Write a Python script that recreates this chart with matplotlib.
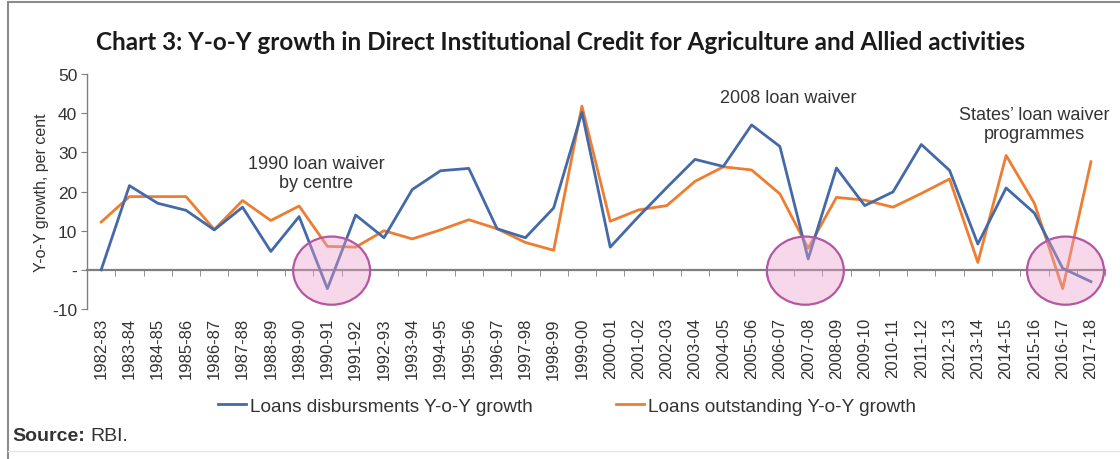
#!/usr/bin/env python3
"""Chart 3: Y-o-Y growth in direct institutional credit for agriculture."""
import matplotlib

matplotlib.use("Agg")
import matplotlib.pyplot as plt
import numpy as np
from matplotlib.lines import Line2D
from matplotlib.patches import Ellipse
from matplotlib.ticker import FuncFormatter

YEARS = [
    "1982-83", "1983-84", "1984-85", "1985-86", "1986-87", "1987-88",
    "1988-89", "1989-90", "1990-91", "1991-92", "1992-93", "1993-94",
    "1994-95", "1995-96", "1996-97", "1997-98", "1998-99", "1999-00",
    "2000-01", "2001-02", "2002-03", "2003-04", "2004-05", "2005-06",
    "2006-07", "2007-08", "2008-09", "2009-10", "2010-11", "2011-12",
    "2012-13", "2013-14", "2014-15", "2015-16", "2016-17", "2017-18",
]
DISBURSED = [
    0.0, 21.5, 17.0, 15.2, 10.2, 16.0, 4.7, 13.6, -4.8, 14.0, 8.2, 20.5,
    25.3, 25.9, 10.5, 8.2, 15.8, 40.2, 5.8, 13.6, 21.0, 28.2, 26.4, 37.0,
    31.5, 2.8, 26.0, 16.4, 19.9, 32.0, 25.4, 6.6, 20.9, 14.5, 0.4, -3.0,
]
OUTSTANDING = [
    12.2, 18.7, 18.7, 18.7, 10.3, 17.7, 12.6, 16.3, 6.0, 5.8, 10.0, 7.9,
    10.2, 12.8, 10.5, 7.0, 5.0, 41.8, 12.4, 15.3, 16.4, 22.6, 26.3, 25.5,
    19.4, 5.5, 18.5, 17.8, 16.0, 19.5, 23.2, 1.9, 29.2, 17.0, -4.8, 27.6,
]
CIRCLE_AT = [8.15, 24.9, 34.1]
NOTES = [
    ("1990 loan waiver\nby centre", 7.6, 24.7),
    ("2008 loan waiver", 24.3, 44.1),
    ("States\u2019 loan waiver\nprogrammes", 33.0, 37.2),
]

BLUE = "#4469A8"
ORANGE = "#EE7D31"
GREY = "#7F7F7F"
TEXT = "#333333"

plt.rcParams.update({
    "font.family": ["Liberation Sans", "DejaVu Sans"],
    "font.size": 12.5,
})

fig = plt.figure(figsize=(11.2, 4.6), dpi=100)
ax = fig.add_axes([0.0777, 0.326, 0.909, 0.511])

x = np.arange(len(YEARS))
ax.plot(x, DISBURSED, color=BLUE, lw=2.0, label="Loans disbursments Y-o-Y growth", zorder=3)
ax.plot(x, OUTSTANDING, color=ORANGE, lw=2.0, label="Loans outstanding Y-o-Y growth", zorder=2)

for cx in CIRCLE_AT:
    ax.add_patch(Ellipse((cx, -0.2), 2.72, 17.4, facecolor=(0.93, 0.62, 0.80, 0.40),
                         edgecolor="#B457A2", lw=1.6, zorder=4))

for text, tx, ty in NOTES:
    ax.text(tx, ty, text, ha="center", va="center", fontsize=13, color=TEXT,
            linespacing=1.1, zorder=5)

ax.set_xlim(-0.5, len(YEARS) - 0.5)
ax.set_ylim(-10, 50)
ax.set_yticks([-10, 0, 10, 20, 30, 40, 50])
ax.yaxis.set_major_formatter(FuncFormatter(lambda v, _: "-" if v == 0 else f"{v:.0f}"))
ax.tick_params(axis="y", direction="out", length=4, color=GREY, labelsize=12.5,
               labelcolor=TEXT, pad=3)

# category axis sits on the zero line, labels pushed below the plot
ax.spines["bottom"].set_position(("data", 0))
for side in ("top", "right"):
    ax.spines[side].set_visible(False)
ax.spines["left"].set_color(GREY)
ax.spines["bottom"].set_color(GREY)
ax.spines["left"].set_linewidth(1.0)
ax.spines["bottom"].set_linewidth(1.6)

ax.set_xticks(x)
ax.set_xticklabels(YEARS, rotation=90)
ax.set_xticks(np.arange(-0.5, len(YEARS), 1.0), minor=True)
ax.tick_params(axis="x", which="major", length=0, pad=34, labelsize=12, labelcolor=TEXT)
ax.tick_params(axis="x", which="minor", direction="out", length=4, color=GREY)

ax.set_ylabel("Y-o-Y growth, per cent", fontsize=11.5, color=TEXT, labelpad=2)

fig.text(0.5, 1 - 42 / 460, "Chart 3: Y-o-Y growth in Direct Institutional Credit for "
         "Agriculture and Allied activities", ha="center", va="center",
         fontsize=17.5, fontweight="bold", family=["Lato", "DejaVu Sans"], color="#1a1a1a")

handles, labels = ax.get_legend_handles_labels()
fig.legend(handles, labels, loc="center", bbox_to_anchor=(567 / 1120, 1 - 407 / 460),
           ncol=2, frameon=False, fontsize=13.7, handlelength=1.45, handletextpad=0.2,
           columnspacing=4.4, labelcolor=TEXT)

src = fig.text(12 / 1120, 1 - 437 / 460, "Source:", ha="left", va="center",
               fontsize=14, fontweight="bold", color=TEXT)
ax.annotate("RBI.", xy=(1, 0), xycoords=src, xytext=(4, 0), textcoords="offset points",
            ha="left", va="bottom", fontsize=14, color=TEXT, annotation_clip=False)

# thin frame around the chart box
fig.add_artist(Line2D([8 / 1120, 8 / 1120], [0, 1 - 3 / 460], transform=fig.transFigure,
                      color="#8c8c8c", lw=1.5))
fig.add_artist(Line2D([8 / 1120, 1], [1 - 3 / 460, 1 - 3 / 460], transform=fig.transFigure,
                      color="#8c8c8c", lw=1.5))
fig.add_artist(Line2D([8 / 1120, 1], [8 / 460, 8 / 460], transform=fig.transFigure,
                      color="#e6e6e6", lw=1.0))

fig.savefig("out.png", dpi=100)
plt.close(fig)
